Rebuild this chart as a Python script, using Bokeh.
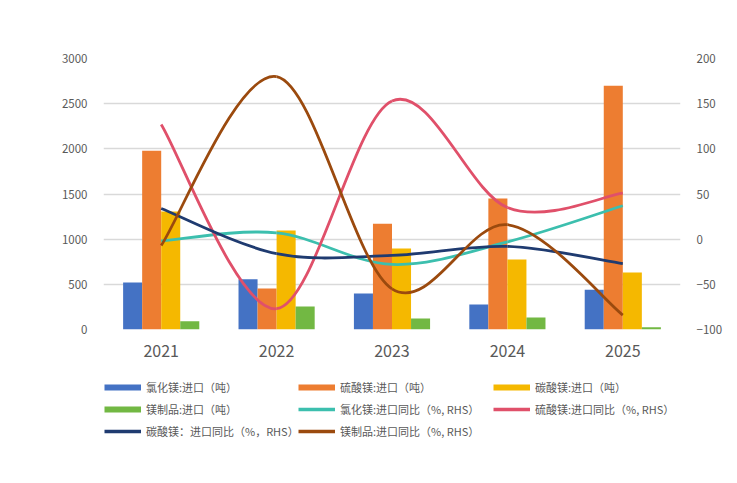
from bokeh.plotting import figure
from bokeh.layouts import column
from bokeh.models import Range1d, LinearAxis, Legend, LegendItem, FixedTicker, ColumnDataSource
from bokeh.embed import file_html
from bokeh.resources import INLINE

years = ["2021", "2022", "2023", "2024", "2025"]

# bars (left axis, tonnes)
mgcl_imp = [520, 556, 398, 276, 439]
mgso4_imp = [1980, 453, 1172, 1449, 2699]
mgco3_imp = [1305, 1095, 896, 774, 630]
mgprod_imp = [90, 254, 122, 133, 25]

# lines (right axis, % yoy)
mgcl_yoy = [-2, 7, -28, -3, 37]
mgso4_yoy = [127, -77, 153, 35, 51]
mgco3_yoy = [34, -16, -18, -8, -27]
mgprod_yoy = [-7, 180, -55, 16, -84]

bar_names = ["氯化镁:进口（吨）", "硫酸镁:进口（吨）", "碳酸镁:进口（吨）", "镁制品:进口（吨）"]
line_names = ["氯化镁:进口同比（%, RHS）", "硫酸镁:进口同比（%, RHS）",
              "碳酸镁：进口同比（%，RHS）", "镁制品:进口同比（%, RHS）"]

bar_colors = ["#4472C4", "#ED7D31", "#F5B800", "#72B843"]
line_colors = ["#3CBFAE", "#E0506A", "#1F3B70", "#9B4A0E"]

FONT = "Noto Sans CJK SC"
GRAY = "#595959"

p = figure(width=729, height=370, output_backend="svg", toolbar_location=None,
           x_range=Range1d(-0.5, 4.5), y_range=Range1d(0, 3000),
           min_border_left=103, min_border_right=49, min_border_top=58, min_border_bottom=41)
p.outline_line_color = None
p.background_fill_color = "white"
p.border_fill_color = "white"

p.extra_y_ranges = {"right": Range1d(-100, 200)}

xs = list(range(len(years)))
bw = 0.165
offsets = [-1.5 * bw, -0.5 * bw, 0.5 * bw, 1.5 * bw]
for vals, col, off in zip([mgcl_imp, mgso4_imp, mgco3_imp, mgprod_imp], bar_colors, offsets):
    p.vbar(x=[x + off for x in xs], top=vals, width=bw, bottom=0, fill_color=col, line_color=None)


def smooth(vals):
    n = len(vals)
    x0, y0, x1, y1, cx0, cy0, cx1, cy1 = [], [], [], [], [], [], [], []
    for i in range(n - 1):
        pa = (xs[i - 1], vals[i - 1]) if i > 0 else (xs[i], vals[i])
        pb = (xs[i], vals[i])
        pc = (xs[i + 1], vals[i + 1])
        pd = (xs[i + 2], vals[i + 2]) if i + 2 < n else (xs[i + 1], vals[i + 1])
        x0.append(pb[0]); y0.append(pb[1]); x1.append(pc[0]); y1.append(pc[1])
        cx0.append(pb[0] + (pc[0] - pa[0]) / 6); cy0.append(pb[1] + (pc[1] - pa[1]) / 6)
        cx1.append(pc[0] - (pd[0] - pb[0]) / 6); cy1.append(pc[1] - (pd[1] - pb[1]) / 6)
    return ColumnDataSource(dict(x0=x0, y0=y0, x1=x1, y1=y1, cx0=cx0, cy0=cy0, cx1=cx1, cy1=cy1))


for vals, col in zip([mgcl_yoy, mgso4_yoy, mgco3_yoy, mgprod_yoy], line_colors):
    p.bezier(x0="x0", y0="y0", x1="x1", y1="y1", cx0="cx0", cy0="cy0", cx1="cx1", cy1="cy1",
             source=smooth(vals), line_color=col, line_width=2.8, y_range_name="right")

# axes
p.xaxis.ticker = FixedTicker(ticks=xs)
p.xaxis.major_label_overrides = {i: y for i, y in enumerate(years)}
p.xaxis.axis_line_color = None
p.xaxis.major_tick_line_color = None
p.xaxis.minor_tick_line_color = None
p.xaxis.major_label_text_font = FONT
p.xaxis.major_label_text_font_size = "16px"
p.xaxis.major_label_text_color = GRAY
p.xaxis.major_label_standoff = 9

p.yaxis.ticker = FixedTicker(ticks=[0, 500, 1000, 1500, 2000, 2500, 3000])
right = LinearAxis(y_range_name="right", ticker=FixedTicker(ticks=[-100, -50, 0, 50, 100, 150, 200]))
p.add_layout(right, "right")
for ax in [p.yaxis[0], right]:
    ax.axis_line_color = None
    ax.major_tick_line_color = None
    ax.minor_tick_line_color = None
    ax.major_label_text_font = FONT
    ax.major_label_text_font_size = "11.5px"
    ax.major_label_text_color = GRAY
    ax.major_label_standoff = 10

p.xgrid.grid_line_color = None
p.ygrid.grid_line_color = "#D9D9D9"
p.ygrid.grid_line_width = 1.3

# legend figure below the chart
LG_H = 105
lg = figure(width=729, height=LG_H, output_backend="svg", toolbar_location=None,
            x_range=Range1d(0, 1), y_range=Range1d(0, 1), x_axis_type=None, y_axis_type=None,
            min_border_left=103, min_border_right=0, min_border_top=0, min_border_bottom=0)
lg.outline_line_color = None
lg.grid.grid_line_color = None

items = []
for name, col in zip(bar_names, bar_colors):
    r = lg.line(x=[-5, -4], y=[-5, -5], line_color=col, line_width=6)
    items.append(LegendItem(label=name, renderers=[r]))
for name, col in zip(line_names, line_colors):
    r = lg.line(x=[-5, -4], y=[-5, -5], line_color=col, line_width=3.5)
    items.append(LegendItem(label=name, renderers=[r]))

ROW_H = 22
col_items = [[items[0], items[3], items[6]], [items[1], items[4], items[7]], [items[2], items[5]]]
col_x = [1, 195, 390]
for its, cx in zip(col_items, col_x):
    h = ROW_H * len(its)
    leg = Legend(items=its, location=(cx, LG_H - 6 - h),
                 glyph_width=37, glyph_height=ROW_H, label_height=ROW_H,
                 label_standoff=5, spacing=0, padding=0, margin=0,
                 border_line_color=None, background_fill_alpha=0,
                 label_text_font=FONT, label_text_font_size="11px", label_text_color=GRAY)
    lg.add_layout(leg, "center")

open("out.html", "w").write(file_html(column(p, lg), INLINE))
